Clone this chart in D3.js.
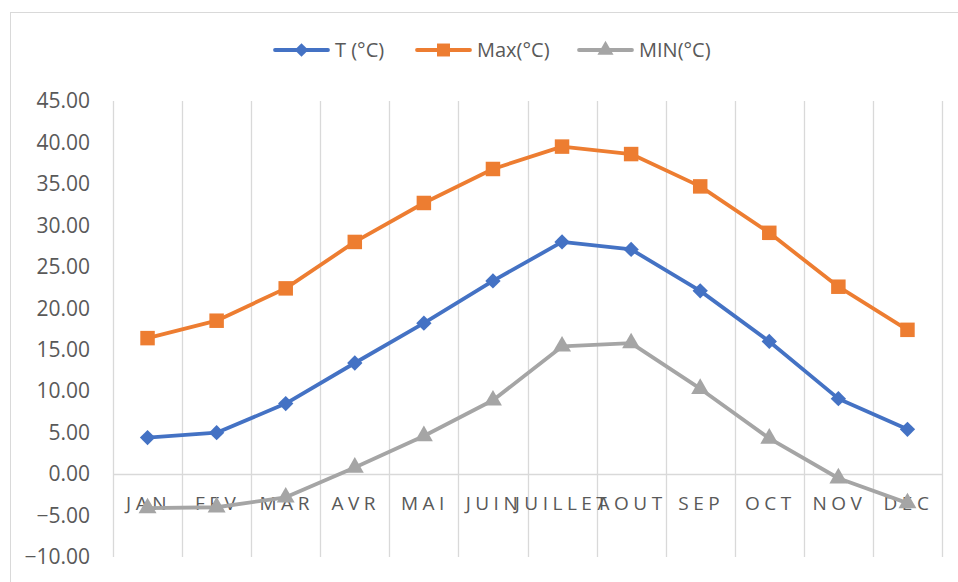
<!DOCTYPE html>
<html>
<head>
<meta charset="utf-8">
<script src="https://cdn.jsdelivr.net/npm/d3@7"></script>
<style>
  body { margin: 0; background: #fff; }
  svg text { font-family: "Open Sans", "Noto Sans", sans-serif; fill: #595959; }
</style>
</head>
<body>
<svg id="chart" width="958" height="582"></svg>
<script>
const months = ['JAN', 'FEV', 'MAR', 'AVR', 'MAI', 'JUIN', 'JUILLET', 'AOUT', 'SEP', 'OCT', 'NOV', 'DEC'];
const tMean = [4.4, 5.0, 8.5, 13.4, 18.2, 23.3, 28.0, 27.1, 22.1, 16.0, 9.1, 5.4];
const tMax = [16.4, 18.5, 22.4, 28.0, 32.7, 36.8, 39.5, 38.6, 34.7, 29.1, 22.6, 17.4];
const tMin = [-4.1, -4.0, -2.8, 0.8, 4.6, 8.9, 15.4, 15.8, 10.3, 4.3, -0.5, -3.5];
const yTicks = [-10, -5, 0, 5, 10, 15, 20, 25, 30, 35, 40, 45];

const series = [
  {name: 'T (°C)', values: tMean, color: '#4472C4', symbol: d3.symbolDiamond2, size: 150},
  {name: 'Max(°C)', values: tMax, color: '#ED7D31', symbol: d3.symbolSquare, size: 210},
  {name: 'MIN(°C)', values: tMin, color: '#A5A5A5', symbol: d3.symbolTriangle, size: 140}
];

const svg = d3.select('#chart');
const margin = {top: 101, right: 16, bottom: 25, left: 113};
const width = 958, height = 582;

// outer chart border
svg.append('rect')
  .attr('x', 10.5).attr('y', 12.5)
  .attr('width', 960).attr('height', 600)
  .attr('fill', 'none').attr('stroke', '#d9d9d9');

const x = d3.scaleBand()
  .domain(months)
  .range([margin.left, width - margin.right]);

const y = d3.scaleLinear()
  .domain([-10, 45])
  .range([height - margin.bottom, margin.top]);

// vertical category gridlines
svg.append('g')
  .selectAll('line')
  .data(d3.range(months.length + 1))
  .join('line')
  .attr('x1', i => Math.round(margin.left + i * x.step()) + 0.5)
  .attr('x2', i => Math.round(margin.left + i * x.step()) + 0.5)
  .attr('y1', y(45))
  .attr('y2', y(-10))
  .attr('stroke', '#d9d9d9')
  .attr('stroke-width', 1.3);

// category axis at 0
svg.append('line')
  .attr('x1', margin.left).attr('x2', width - margin.right)
  .attr('y1', Math.round(y(0)) + 0.5).attr('y2', Math.round(y(0)) + 0.5)
  .attr('stroke', '#d9d9d9').attr('stroke-width', 1.3);

// y axis labels
const yAxis = svg.append('g')
  .attr('transform', `translate(${margin.left},0)`)
  .call(d3.axisLeft(y).tickValues(yTicks).tickFormat(d3.format('.2f')).tickSize(0).tickPadding(23));
yAxis.select('.domain').remove();
yAxis.selectAll('text')
  .style('font-size', '21px')
  .attr('fill', '#595959');

// x labels
svg.append('g')
  .selectAll('text')
  .data(months)
  .join('text')
  .attr('x', d => x(d) + x.bandwidth() / 2 + 1)
  .attr('y', y(0) + 36)
  .attr('text-anchor', 'middle')
  .style('font-size', '19px')
  .style('letter-spacing', '4.5px')
  .text(d => d);

const line = d3.line()
  .x((d, i) => x(months[i]) + x.bandwidth() / 2)
  .y(d => y(d));

series.forEach(s => {
  const g = svg.append('g');
  g.append('path')
    .datum(s.values)
    .attr('d', line)
    .attr('fill', 'none')
    .attr('stroke', s.color)
    .attr('stroke-width', 3.8)
    .attr('stroke-linejoin', 'round');
  g.selectAll('path.marker')
    .data(s.values)
    .join('path')
    .attr('class', 'marker')
    .attr('d', d3.symbol(s.symbol, s.size))
    .attr('transform', (d, i) => `translate(${x(months[i]) + x.bandwidth() / 2},${y(d)})`)
    .attr('fill', s.color);
});

// legend
const legendX = [275, 417, 579];
const legend = svg.append('g');
series.forEach((s, i) => {
  const lg = legend.append('g').attr('transform', `translate(${legendX[i]},50)`);
  lg.append('line')
    .attr('x1', 0).attr('x2', 53)
    .attr('stroke', s.color).attr('stroke-width', 3.8).attr('stroke-linecap', 'round');
  lg.append('path')
    .attr('d', d3.symbol(s.symbol, s.size * 0.8))
    .attr('transform', 'translate(26.5,0)')
    .attr('fill', s.color);
  lg.append('text')
    .attr('x', 60).attr('y', 7)
    .style('font-size', '20px')
    .text(s.name);
});
</script>
</body>
</html>
